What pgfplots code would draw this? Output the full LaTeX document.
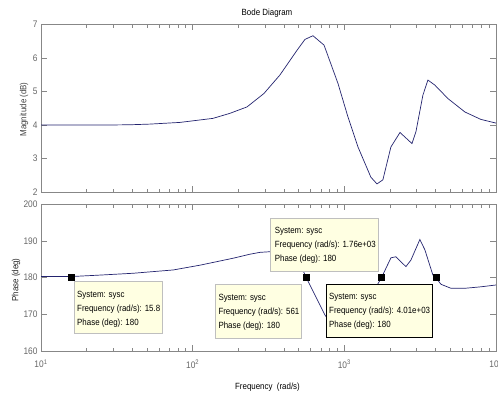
\documentclass[border=0pt]{standalone}
\usepackage{fontspec}
\setmainfont[FakeStretch=0.88]{Liberation Sans}
\usepackage{pgfplots}
\pgfplotsset{compat=1.18}
\definecolor{curve}{RGB}{35,35,110}
\definecolor{tipfill}{RGB}{255,255,226}
\definecolor{axgray}{RGB}{135,135,135}
\pgfplotsset{bode/.style={
  scale only axis, width=455pt, xmin=10, xmax=10000,
  axis line style={draw=axgray, line width=0.6pt},
  every tick/.style={draw=axgray, line width=0.5pt},
  tick align=inside,
  major tick length=6pt, minor tick length=3.5pt,
  tick label style={font=\fontsize{9.5}{10}\selectfont, text=black!60},
  /pgf/number format/assume math mode=true,
  xtick={10,100,1000,10000},
  minor xtick={20,30,40,50,60,70,80,90,200,300,400,500,600,700,800,900,2000,3000,4000,5000,6000,7000,8000,9000},
  anchor=south west,
}}
\begin{document}
\begin{tikzpicture}
\useasboundingbox (0pt,0pt) rectangle (498pt,394pt);
% ---------------- Magnitude ----------------
\begin{semilogxaxis}[bode, at={(41pt,201.7pt)}, height=168pt,
  ymin=2, ymax=7, ytick={2,3,4,5,6,7}, xticklabels={,,,}]
\addplot[curve, line width=0.7pt] coordinates {
(10,4.00)(24.5,4.00)(38.6,4.01)(52.4,4.03)(82.4,4.08)(136,4.20)(176,4.35)
(228,4.54)(295,4.94)(376,5.49)(488,6.23)(550,6.55)(621,6.66)(735,6.38)
(908,5.24)(1057,4.24)(1230,3.35)(1496,2.45)(1641,2.25)(1795,2.37)(2028,3.35)
(2328,3.78)(2793,3.45)(2965,3.80)(3296,4.89)(3556,5.34)(3954,5.19)(4819,4.79)
(6237,4.39)(7943,4.17)(10000,4.06)};
\end{semilogxaxis}
% ---------------- Phase ----------------
\begin{semilogxaxis}[bode, at={(41pt,43pt)}, height=146.7pt,
  ymin=160, ymax=200, ytick={160,170,180,190,200},
  xticklabel style={yshift=-5pt},
  xticklabels={10\textsuperscript{1},10\textsuperscript{2},10\textsuperscript{3},10\textsuperscript{4}}]
\addplot[curve, line width=0.7pt] coordinates {
(10,180.3)(15.8,180.3)(24.5,180.7)(40.6,181.2)(74.5,182.1)(111.7,183.4)(185,185.3)
(239,186.4)(278,186.9)(332,187.1)(419,186.8)(480,185.0)(530,182.3)(561,180)
(593,178)(745,169.8)(867,166.2)(1009,163.8)(1175,166)(1368,171)(1592,177)
(1760,180)(1854,182)(2028,185.4)(2188,185.7)(2547,183)(2748,184.8)(3148,190.4)
(3396,187.6)(3837,180.7)(4010,180)(4335,178.2)(5047,177.1)(6237,177.1)
(7943,177.5)(10000,178)};
\addplot[only marks, mark=square*, mark size=3pt, black] coordinates {
(15.8,180)(561,180)(1760,180)(4010,180)};
\end{semilogxaxis}
% ---------------- titles and labels ----------------
\node[font=\fontsize{9}{10}\selectfont] at (267pt,380.7pt) {Bode Diagram};
\node[font=\fontsize{9}{10}\selectfont] at (267.5pt,7.3pt) {Frequency \ (rad/s)};
\node[rotate=90, font=\fontsize{9}{10}\selectfont, text=black!75] at (24pt,284.5pt) {Magnitude (dB)};
\node[rotate=90, font=\fontsize{9}{10}\selectfont, text=black!85] at (16pt,114pt) {Phase (deg)};
% ---------------- data tips ----------------
\begin{scope}[every node/.style={font=\fontsize{9}{10}\selectfont, anchor=base west, inner sep=0pt}]
\draw[fill=tipfill, draw=black!25, line width=0.5pt] (74pt,60.7pt) rectangle (162.7pt,113pt);
\node at (77pt,96.5pt) {System: sysc};
\node at (77pt,82.5pt) {Frequency (rad/s): 15.8};
\node at (77pt,68.5pt) {Phase (deg): 180};
\draw[fill=tipfill, draw=black!25, line width=0.5pt] (215.7pt,55.7pt) rectangle (301.3pt,110pt);
\node at (218.3pt,93.8pt) {System: sysc};
\node at (218.3pt,79.8pt) {Frequency (rad/s): 561};
\node at (218.3pt,65.8pt) {Phase (deg): 180};
\draw[fill=tipfill, draw=black!25, line width=0.5pt] (270.7pt,123pt) rectangle (378.7pt,175.7pt);
\node at (274.7pt,160.8pt) {System: sysc};
\node at (274.7pt,146.8pt) {Frequency (rad/s): 1.76e+03};
\node at (274.7pt,132.8pt) {Phase (deg): 180};
\draw[fill=tipfill, draw=black, line width=0.6pt] (326.3pt,56.3pt) rectangle (432pt,109.7pt);
\node at (329pt,94.8pt) {System: sysc};
\node at (329pt,80.8pt) {Frequency (rad/s): 4.01e+03};
\node at (329pt,66.8pt) {Phase (deg): 180};
\end{scope}
\end{tikzpicture}
\end{document}
